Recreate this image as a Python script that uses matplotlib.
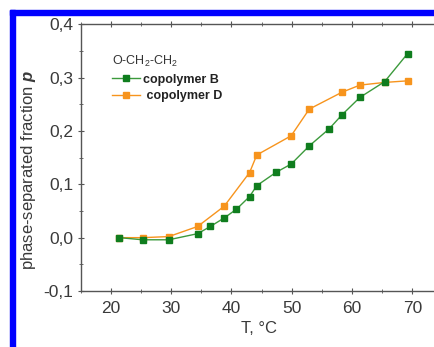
import matplotlib
matplotlib.use("Agg")
import matplotlib.pyplot as plt
from matplotlib.patches import Rectangle
from matplotlib.ticker import FuncFormatter, MultipleLocator

plt.rcParams["font.family"] = ["Liberation Sans", "DejaVu Sans"]
plt.rcParams["mathtext.fontset"] = "custom"
plt.rcParams["mathtext.rm"] = "Liberation Sans"
plt.rcParams["mathtext.it"] = "Liberation Sans:italic"
plt.rcParams["mathtext.bf"] = "Liberation Sans:bold"
plt.rcParams["mathtext.bfit"] = "Liberation Sans:bold:italic"

# copolymer B
t_b = [21.4, 25.3, 29.6, 34.4, 36.5, 38.8, 40.8, 43.0, 44.2, 47.4,
       49.9, 52.9, 56.2, 58.3, 61.3, 65.4, 69.2]
p_b = [0.0, -0.004, -0.004, 0.0075, 0.021, 0.037, 0.053, 0.077, 0.0975, 0.1225,
       0.138, 0.172, 0.204, 0.230, 0.263, 0.2925, 0.345]

# copolymer D
t_d = [21.4, 25.3, 29.6, 34.4, 38.8, 43.0, 44.2, 49.9, 52.9, 58.3, 61.3, 65.4, 69.2]
p_d = [0.0, 0.0, 0.002, 0.021, 0.059, 0.122, 0.155, 0.191, 0.241, 0.2725,
       0.286, 0.291, 0.294]

GREEN_MK = "#0f7d1e"
GREEN_LN = "#3c9a3c"
ORANGE = "#f7941d"


def main():
    fig = plt.figure(figsize=(4.35, 3.47), dpi=100)
    ax = fig.add_axes([0.1855, 0.1614, 0.818, 0.7686])

    ax.plot(t_b, p_b, color=GREEN_LN, lw=1.0, marker="s", ms=4.5,
            mfc=GREEN_MK, mec=GREEN_MK, label="copolymer B", zorder=3)
    ax.plot(t_d, p_d, color=ORANGE, lw=1.0, marker="s", ms=4.5,
            mfc=ORANGE, mec=ORANGE, label=" copolymer D", zorder=2)

    ax.set_xlim(15, 74)
    ax.set_ylim(-0.1, 0.4)
    ax.xaxis.set_major_locator(MultipleLocator(10))
    ax.xaxis.set_minor_locator(MultipleLocator(5))
    ax.yaxis.set_major_locator(MultipleLocator(0.1))
    ax.yaxis.set_minor_locator(MultipleLocator(0.05))
    ax.yaxis.set_major_formatter(FuncFormatter(lambda v, _: f"{v:.1f}".replace(".", ",").replace("−", "-")))

    for s in ax.spines.values():
        s.set_color("#555555")
        s.set_linewidth(1.0)
    ax.tick_params(which="both", direction="inout", top=True, right=False,
                   colors="#555555", labelcolor="#3a3a3a", labelsize=12.5)
    ax.tick_params(which="major", length=5)
    ax.tick_params(which="minor", length=3)
    ax.tick_params(axis="x", pad=5)
    ax.tick_params(axis="y", pad=3)

    ax.set_ylabel(r"phase-separated fraction $\mathbfit{p}$", fontsize=12,
                  color="#3a3a3a")
    ax.yaxis.set_label_coords(-0.12, 0.455)
    ax.set_xlabel("T, °C", fontsize=12, color="#3a3a3a", labelpad=3)

    leg = ax.legend(loc="upper left", bbox_to_anchor=(0.071, 0.911), frameon=False,
                    title="O-CH$_2$-CH$_2$", alignment="left", borderpad=0,
                    handlelength=2.2, handletextpad=0.3, labelspacing=0.35,
                    prop={"weight": "bold", "size": 9})
    leg.get_title().set_fontsize(9)
    leg.get_title().set_color("#333333")
    for txt in leg.get_texts():
        txt.set_color("#222222")

    # blue frame of the cropped figure
    W, H = 435.0, 347.0
    fig.patches.append(Rectangle((10 / W, 0), 5 / W, (H - 10) / H,
                                 transform=fig.transFigure, color="#0000ff", zorder=10))
    fig.patches.append(Rectangle((10 / W, 1 - 15 / H), 1, 5 / H,
                                 transform=fig.transFigure, color="#0000ff", zorder=10))

    fig.savefig("out.png", dpi=100)


if __name__ == "__main__":
    main()
